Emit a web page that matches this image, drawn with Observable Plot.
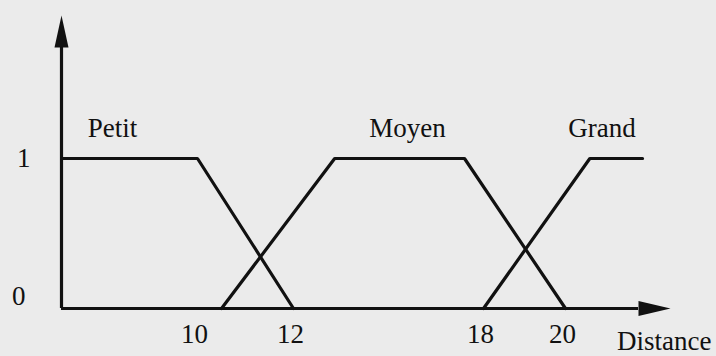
<!DOCTYPE html>
<html>
<head>
<meta charset="utf-8">
<script src="https://cdn.jsdelivr.net/npm/d3@7"></script>
<script src="https://cdn.jsdelivr.net/npm/@observablehq/plot@0.6"></script>
<style>
  html, body { margin: 0; padding: 0; background: #ebebeb; }
  svg text { font-family: "Liberation Serif", "DejaVu Serif", serif; }
</style>
</head>
<body>
<div id="chart"></div>
<script>
// Membership functions (Distance -> degree)
const petitX = [0, 10, 12];
const petitY = [1, 1, 0];
const moyenX = [10.5, 13.3, 17.4, 20];
const moyenY = [0, 1, 1, 0];
const grandX = [18, 20.6, 21.9];
const grandY = [0, 1, 1];

const setNames = ["Petit", "Moyen", "Grand"];
const setLabelX = [3.75, 15.6, 20.9];

const xTicks = [10, 12, 18, 20];
const yTicks = [0, 1];
const xTitle = "Distance";

// axis extents (the drawing's distance axis is schematic, not uniform)
const xBreaks = [0, 10, 12, 18, 20, 21.8];
const yEnd = 1.74;

const ink = "#111";
const serif = "Liberation Serif";
const toRows = (xs, ys) => xs.map((x, i) => ({x, y: ys[i]}));

// piecewise schematic distance axis, applied as the x scale's transform
const xSchematic = d3.scaleLinear().domain(xBreaks).range([61, 197, 293, 483, 565, 638]);

const arrowUp = {draw(ctx) { ctx.moveTo(0, -32); ctx.lineTo(7, 0); ctx.lineTo(-7, 0); ctx.closePath(); }};
const arrowRight = {draw(ctx) { ctx.moveTo(32, 0); ctx.lineTo(0, -7.5); ctx.lineTo(0, 7.5); ctx.closePath(); }};

const plot = Plot.plot({
  width: 716,
  height: 356,
  marginLeft: 61,
  marginBottom: 48,
  marginTop: 0,
  marginRight: 0,
  style: {fontFamily: serif, fontSize: "27px", color: ink, background: "#ebebeb"},
  x: {transform: xSchematic, domain: [61, 638], range: [61, 638], axis: null},
  y: {domain: [0, yEnd], range: [308, 47], axis: null},
  marks: [
    Plot.axisY({ticks: [yTicks[1]], tickFormat: d => String(d), tickSize: 0, tickPadding: 31, label: null, fontSize: 27, fontFamily: serif}),
    Plot.axisY({ticks: [yTicks[0]], tickFormat: d => String(d), tickSize: 0, tickPadding: 36, dy: -12, label: null, fontSize: 27, fontFamily: serif}),
    Plot.ruleY([0], {x1: xBreaks[0], x2: xBreaks[xBreaks.length - 1], stroke: ink, strokeWidth: 3.2}),
    Plot.ruleX([0], {y1: 0, y2: yEnd, stroke: ink, strokeWidth: 3.2}),
    Plot.dot([{x: xBreaks[xBreaks.length - 1], y: 0}], {x: "x", y: "y", symbol: arrowRight, fill: ink, stroke: "none"}),
    Plot.dot([{x: 0, y: yEnd}], {x: "x", y: "y", symbol: arrowUp, fill: ink, stroke: "none"}),
    Plot.line(toRows(petitX, petitY), {x: "x", y: "y", stroke: ink, strokeWidth: 3.2, strokeLinejoin: "miter"}),
    Plot.line(toRows(moyenX, moyenY), {x: "x", y: "y", stroke: ink, strokeWidth: 3.2, strokeLinejoin: "miter"}),
    Plot.line(toRows(grandX, grandY), {x: "x", y: "y", stroke: ink, strokeWidth: 3.2, strokeLinejoin: "miter"}),
    // distance tick labels, placed through the x scale
    Plot.text(xTicks, {x: d => d, y: 0, text: d => String(d), lineAnchor: "top", dy: 15, dx: -3, fill: ink, fontSize: 27, fontFamily: serif}),
    Plot.text(setNames.map((name, i) => ({name, x: setLabelX[i], y: 1})), {x: "x", y: "y", text: "name", lineAnchor: "bottom", dy: -22, fill: ink, fontSize: 27, fontFamily: serif}),
    Plot.text([xTitle], {frameAnchor: "bottom-right", textAnchor: "end", lineAnchor: "bottom", dy: 41, dx: -5, fill: ink, fontSize: 27, fontFamily: serif})
  ]
});
document.getElementById("chart").appendChild(plot);
</script>
</body>
</html>
